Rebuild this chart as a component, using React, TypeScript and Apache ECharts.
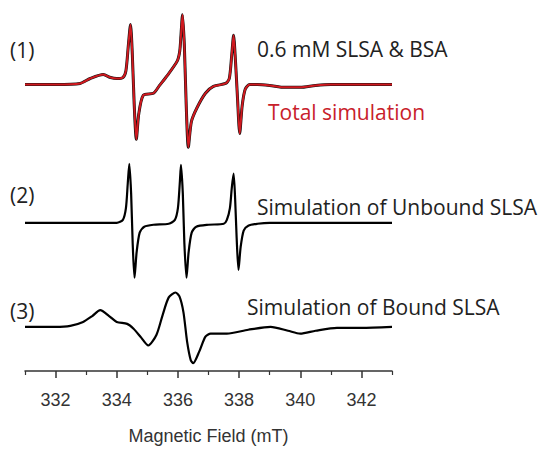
import React, { useEffect, useRef } from "react";
import * as echarts from "echarts";

// Magnetic field (mT) and signal amplitude (a.u., positive = up) for each trace
const field1 = [331.0, 332.0, 332.8, 333.13, 333.56, 333.8, 334.0, 334.2, 334.3, 334.38, 334.45, 334.51, 334.57, 334.64, 334.72, 334.87, 335.2, 335.4, 335.65, 335.98, 336.06, 336.1, 336.15, 336.21, 336.27, 336.34, 336.44, 336.62, 336.9, 337.16, 337.56, 337.68, 337.76, 337.82, 337.88, 337.95, 338.02, 338.1, 338.2, 338.35, 338.6, 339.0, 339.5, 340.0, 340.5, 341.0, 343.0];
const signal1 = [0, 0, 1, 6, 10, 7, 6, 7, 14, 40, 61, 30, -20, -56, -30, -11, -9, -1, 9, 24, 34, 50, 71, 40, -20, -64, -38, -24, -9, -2, 1, 6, 30, 50, 25, -15, -50, -22, -5, 0, 0, -1, -3, -3, -1, 0, 0];

const field2 = [331.0, 334.0, 334.2, 334.3, 334.36, 334.41, 334.47, 334.52, 334.58, 334.65, 334.75, 334.9, 335.2, 335.7, 335.9, 336.0, 336.06, 336.1, 336.16, 336.21, 336.28, 336.35, 336.45, 336.6, 337.0, 337.5, 337.6, 337.7, 337.76, 337.82, 337.87, 337.92, 337.98, 338.05, 338.15, 338.3, 338.6, 339.0, 343.0];
const signal2 = [0, 0, 3, 15, 40, 60, 30, -20, -56, -30, -10, -4, -2, -1, 3, 15, 40, 59, 30, -20, -56, -30, -10, -4, -2, -1, 3, 15, 35, 50, 25, -15, -48, -25, -8, -3, -1, 0, 0];

const field3 = [331.0, 332.0, 332.48, 332.9, 333.2, 333.46, 333.75, 334.0, 334.34, 334.55, 334.8, 335.03, 335.3, 335.5, 335.7, 335.92, 336.05, 336.18, 336.3, 336.42, 336.5, 336.7, 336.9, 337.07, 337.6, 338.3, 339.03, 339.6, 340.0, 340.5, 341.2, 342.0, 343.0];
const signal3 = [0, 0, 1, 5, 11, 17, 11, 5, 3, -2, -11, -19, -8, 12, 30, 35, 31, 15, -15, -34, -37, -25, -10, -7, -7, -3, 0, -4, -7, -4, -1, -1, 0];

const traceOffsets = [292, 151, 45];
const majorTicks = [332, 334, 336, 338, 340, 342];
const minorTicks = [331, 333, 335, 337, 339, 341, 343];

const labels = ["(1)", "(2)", "(3)"];
const captions = ["0.6 mM SLSA & BSA", "Total simulation", "Simulation of Unbound SLSA", "Simulation of Bound SLSA"];
const axisTitle = "Magnetic Field (mT)";

const RED = "#d0191f";
const TEXT_RED = "#c8202a";
const textFont = "'Open Sans', 'Noto Sans', sans-serif";
const axisFont = "'Liberation Sans', Arial, sans-serif";

function pairs(xs: number[], ys: number[], off: number) {
  return xs.map((x, i) => [x, ys[i] + off]);
}

export default function App() {
  const ref = useRef<HTMLDivElement>(null);
  useEffect(() => {
    if (!ref.current) return;
    const chart = echarts.init(ref.current, undefined, { renderer: "svg" });
    const d1 = pairs(field1, signal1, traceOffsets[0]);
    const d2 = pairs(field2, signal2, traceOffsets[1]);
    const d3 = pairs(field3, signal3, traceOffsets[2]);
    const lineBase = { type: "line", showSymbol: false, symbol: "none", smooth: 0.25, animation: false, silent: true };
    const txt = (x: number, y: number, text: string, fill: string) => ({
      type: "text",
      x,
      y,
      style: { text, fontFamily: textFont, fontSize: 21, fill, verticalAlign: "middle", align: "left" },
    });
    chart.setOption({
      animation: false,
      backgroundColor: "#ffffff",
      grid: { left: 25, right: 147, top: 0, bottom: 72 },
      xAxis: [
        {
          type: "value",
          min: 331,
          max: 343,
          axisLine: { show: true, lineStyle: { color: "#333", width: 1.5 } },
          axisTick: { show: true, customValues: majorTicks, length: 7, lineStyle: { color: "#333", width: 1.5 } },
          axisLabel: { show: true, customValues: majorTicks, fontFamily: axisFont, fontSize: 18, color: "#333", margin: 20 },
          splitLine: { show: false },
          name: axisTitle,
          nameLocation: "middle",
          nameGap: 56,
          nameTextStyle: { fontFamily: axisFont, fontSize: 18, color: "#333" },
        },
        {
          type: "value",
          min: 331,
          max: 343,
          position: "bottom",
          axisLine: { show: false },
          axisTick: { show: true, customValues: minorTicks, length: 4, lineStyle: { color: "#333", width: 1.2 } },
          axisLabel: { show: false },
          splitLine: { show: false },
        },
      ],
      yAxis: { type: "value", min: 0, max: 378, show: false },
      series: [
        { ...lineBase, data: d1, lineStyle: { color: "#111", width: 3 }, xAxisIndex: 0 },
        { ...lineBase, data: d1, lineStyle: { color: RED, width: 2 }, xAxisIndex: 0 },
        { ...lineBase, data: d2, lineStyle: { color: "#000", width: 2.2 }, xAxisIndex: 0 },
        { ...lineBase, data: d3, lineStyle: { color: "#000", width: 2.2 }, xAxisIndex: 0 },
      ],
      graphic: [
        txt(10, 50, labels[0], "#222"),
        txt(10, 195, labels[1], "#222"),
        txt(10, 311, labels[2], "#222"),
        txt(257, 49, captions[0], "#222"),
        txt(268, 112, captions[1], TEXT_RED),
        txt(257, 207, captions[2], "#222"),
        txt(247, 307, captions[3], "#222"),
      ],
    });
    return () => chart.dispose();
  }, []);
  return (
    <div
      ref={ref}
      style={{ position: "fixed", left: 0, top: 0, width: 539, height: 450, background: "#fff" }}
    />
  );
}
